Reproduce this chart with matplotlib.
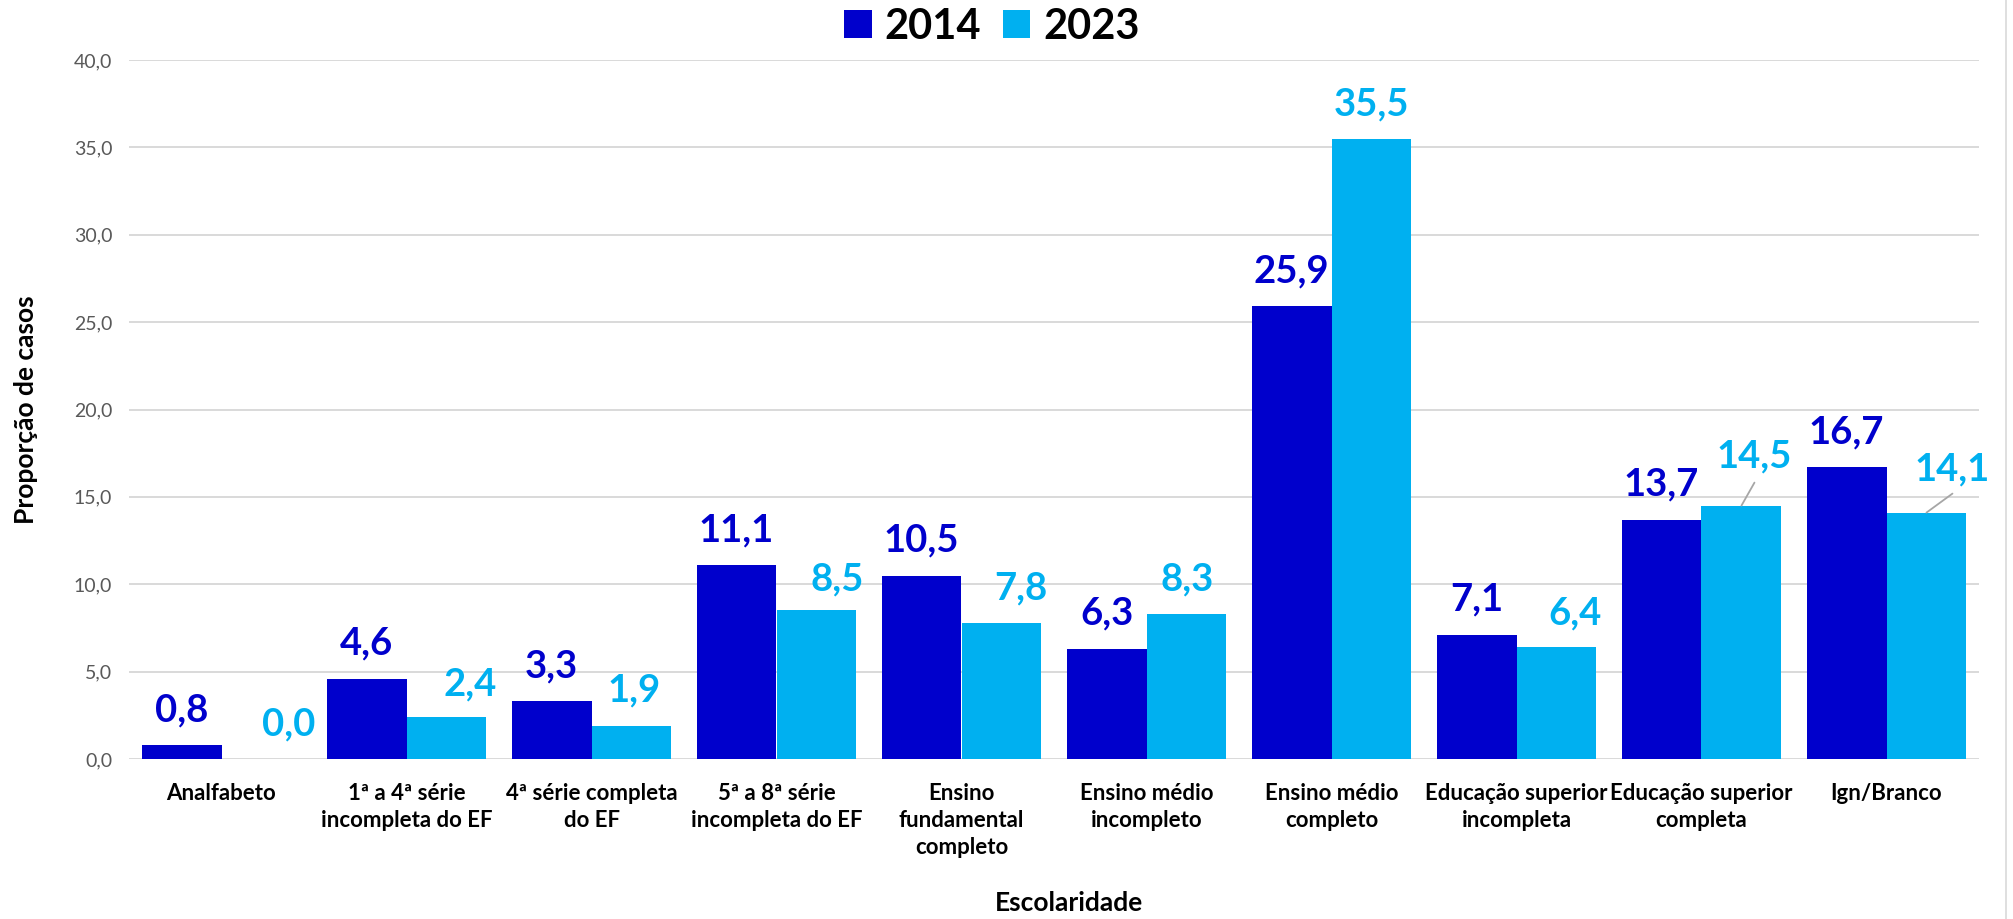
import matplotlib
matplotlib.use("Agg")
import matplotlib.pyplot as plt
from matplotlib.ticker import FuncFormatter, MultipleLocator
from matplotlib.lines import Line2D
import numpy as np

plt.rcParams['font.family'] = ['Lato', 'DejaVu Sans']

categories = [
    "Analfabeto",
    "1ª a 4ª série\nincompleta do EF",
    "4ª série completa\ndo EF",
    "5ª a 8ª série\nincompleta do EF",
    "Ensino\nfundamental\ncompleto",
    "Ensino médio\nincompleto",
    "Ensino médio\ncompleto",
    "Educação superior\nincompleta",
    "Educação superior\ncompleta",
    "Ign/Branco",
]
series_names = ["2014", "2023"]
values_2014 = [0.8, 4.6, 3.3, 11.1, 10.5, 6.3, 25.9, 7.1, 13.7, 16.7]
values_2023 = [0.0, 2.4, 1.9, 8.5, 7.8, 8.3, 35.5, 6.4, 14.5, 14.1]

# label placement (pixel offsets from bar top centre)
offsets_2014 = [(0, 24)] * 10
offsets_2023 = [(27, 24), (24, 22), (3, 24), (21, 20), (19, 23),
                (1, 23), (0, 23), (19, 23), (13, 38), (26, 32)]
leader_2023 = {8: (13, 23), 9: (26, 19)}

c_dark = "#0000CC"
c_light = "#00B0F0"

W, H = 2013, 919
fig = plt.figure(figsize=(W / 100, H / 100), dpi=100)
ax = fig.add_axes([129 / W, 1 - 759 / H, (1979 - 129) / W, (759 - 60) / H])

x = np.arange(len(categories))
bw = 0.432
b1 = ax.bar(x - bw / 2, values_2014, bw, color=c_dark, label=series_names[0], zorder=3)
b2 = ax.bar(x + bw / 2, values_2023, bw, color=c_light, label=series_names[1], zorder=3)

ax.set_xlim(-0.5, len(categories) - 0.5)
ax.set_ylim(0, 40)
ax.yaxis.set_major_locator(MultipleLocator(5))
ax.yaxis.set_major_formatter(FuncFormatter(lambda v, p: f"{v:.1f}".replace(".", ",")))
ax.grid(axis="y", color="#D9D9D9", lw=1.4, zorder=0)
ax.set_axisbelow(True)
for s in ax.spines.values():
    s.set_visible(False)
ax.tick_params(axis="y", length=0, pad=12, labelsize=14, labelcolor="#595959")
ax.tick_params(axis="x", length=0, pad=17)
ax.set_xticks(x)
ax.set_xticklabels(categories, fontsize=16, fontweight="bold", color="black", linespacing=1.35)

fmt = lambda v: f"{v:.1f}".replace(".", ",")
for i, v in enumerate(values_2014):
    dx, dy = offsets_2014[i]
    ax.annotate(fmt(v), xy=(x[i] - bw / 2, v), xytext=(dx, dy), textcoords="offset pixels",
                ha="center", va="baseline", fontsize=27.5, fontweight="bold", color=c_dark, zorder=5)
for i, v in enumerate(values_2023):
    dx, dy = offsets_2023[i]
    ax.annotate(fmt(v), xy=(x[i] + bw / 2, v), xytext=(dx, dy), textcoords="offset pixels",
                ha="center", va="baseline", fontsize=27.5, fontweight="bold", color=c_light, zorder=5)
    if i in leader_2023:
        ax.annotate("", xy=(x[i] + bw / 2, v), xytext=leader_2023[i], textcoords="offset pixels",
                    arrowprops=dict(arrowstyle="-", color="#A6A6A6", lw=1.3, shrinkA=0, shrinkB=0),
                    zorder=4)

ax.set_ylabel("Proporção de casos", fontsize=19, fontweight="bold")
ax.yaxis.set_label_coords(-(129 - 38) / (1979 - 129), 0.5)
ax.set_xlabel("Escolaridade", fontsize=19, fontweight="bold")
ax.xaxis.set_label_coords((1069 - 129) / (1979 - 129), -(891 - 759) / (759 - 60))

fig.legend(handles=[b1, b2], labels=series_names, loc="center",
           bbox_to_anchor=(992 / W, 1 - 27 / H), ncol=2, frameon=False,
           prop=dict(size=30, weight="bold"), handlelength=0.65, handleheight=0.65,
           handletextpad=0.31, columnspacing=0.53, borderpad=0, borderaxespad=0)

fig.add_artist(Line2D([2006 / W, 2006 / W], [0, 1], color="#D9D9D9", lw=1.2, transform=fig.transFigure))

fig.savefig("out.png", dpi=100)
